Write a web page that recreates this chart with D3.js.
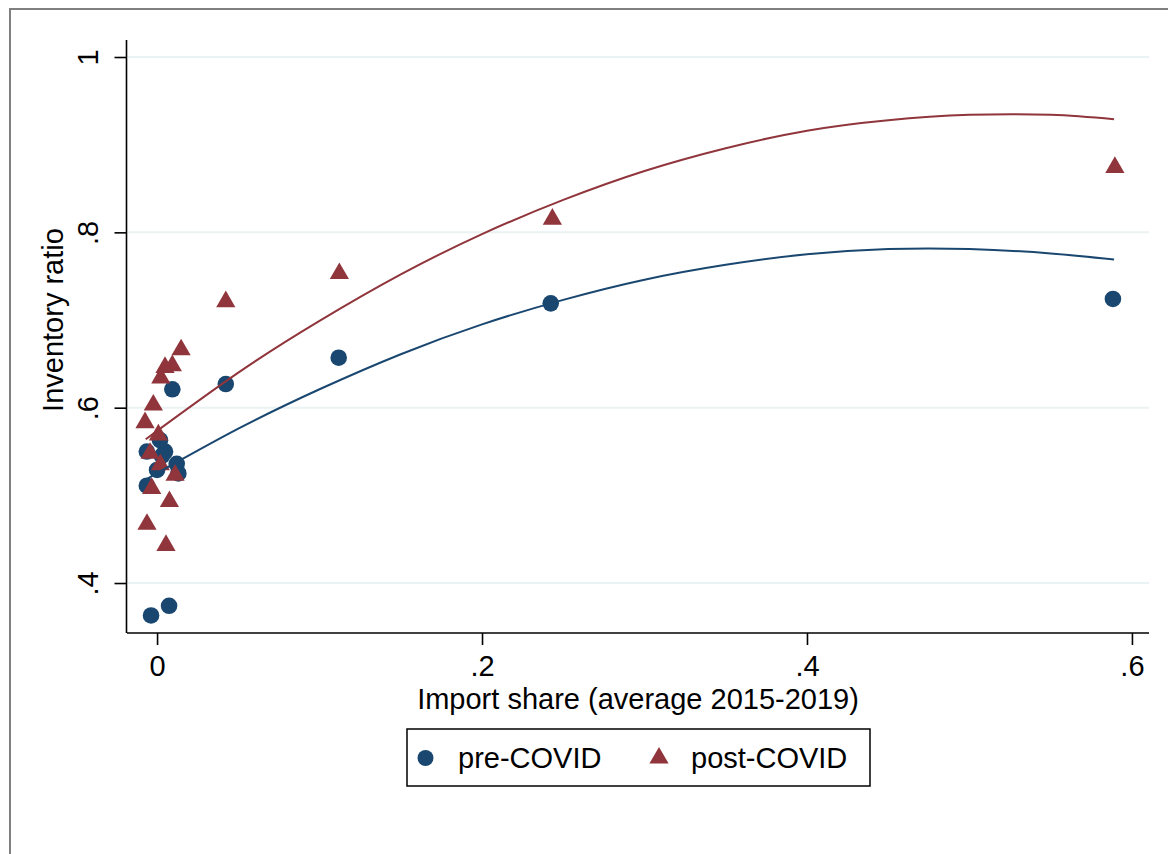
<!doctype html>
<html>
<head>
<title>Inventory ratio and import share</title>
<script src="https://cdnjs.cloudflare.com/ajax/libs/d3/7.8.5/d3.min.js"></script>
<style>
	body { margin: 0; background: #fff; }
	text { font-family: "Liberation Sans", Arial, sans-serif; fill: #000; }
</style>
</head>
<body>
<div id="chartContainer"></div>

<script type="text/javascript">

// scatter values
var preX  = [0.5883, 0.2423, 0.1118, 0.0423, 0.0094, -0.0063, 0.0049, 0.0018, 0.0121, 0.0131, 0.0000, -0.0063, 0.0030, -0.0037, 0.0074];
var preY  = [0.724, 0.719, 0.657, 0.627, 0.621, 0.550, 0.550, 0.563, 0.536, 0.525, 0.529, 0.511, 0.545, 0.363, 0.374];

var postX = [0.5895, 0.2433, 0.1122, 0.0423, 0.0148, 0.0094, 0.0049, 0.0023, -0.0023, -0.0074, 0.0008, -0.0043, 0.0020, 0.0111, -0.0033, 0.0076, -0.0062, 0.0055];
var postY = [0.874, 0.815, 0.753, 0.721, 0.666, 0.648, 0.646, 0.634, 0.603, 0.583, 0.569, 0.548, 0.535, 0.523, 0.508, 0.493, 0.467, 0.443];

// quadratic fit lines
var fitX    = [-0.007, 0.05, 0.10, 0.15, 0.20, 0.25, 0.30, 0.35, 0.40, 0.45, 0.50, 0.55, 0.589];
var fitPre  = [0.518, 0.576, 0.621, 0.661, 0.695, 0.723, 0.746, 0.763, 0.775, 0.781, 0.781, 0.776, 0.769];
var fitPost = [0.564, 0.640, 0.699, 0.752, 0.798, 0.837, 0.870, 0.896, 0.916, 0.928, 0.934, 0.934, 0.929];

var xTicks = [0, 0.2, 0.4, 0.6];
var yTicks = [0.4, 0.6, 0.8, 1];
var seriesNames = ["pre-COVID", "post-COVID"];

var navy = "#1a476f", maroon = "#90353b";

var svg = d3.select("#chartContainer").append("svg")
	.attr("width", 1168)
	.attr("height", 854);

svg.append("rect")
	.attr("width", 1168).attr("height", 854)
	.attr("fill", "#fff");

// outer graph frame, runs off the right and bottom of the page
svg.append("rect")
	.attr("x", 10).attr("y", 9)
	.attr("width", 1200).attr("height", 900)
	.attr("fill", "none")
	.attr("stroke", "#808080")
	.attr("stroke-width", 2);

var x = d3.scaleLinear().domain([-0.0185, 0.6105]).range([127, 1149]);
var y = d3.scaleLinear().domain([0.343, 1.0194]).range([633, 40]);

function fmt(d) {
	if (d === 0) return "0";
	if (d === 1) return "1";
	return d3.format(".1f")(d).replace(/^0/, "");
}

// grid
svg.append("g").selectAll("line")
	.data(yTicks).join("line")
	.attr("x1", 128).attr("x2", 1149)
	.attr("y1", function(d){ return y(d); })
	.attr("y2", function(d){ return y(d); })
	.attr("stroke", "#eaf2f3")
	.attr("stroke-width", 2);

// axes
var xAxis = svg.append("g")
	.attr("transform", "translate(0,633)")
	.call(d3.axisBottom(x).tickValues(xTicks).tickFormat(fmt).tickSize(12).tickPadding(10));
var yAxis = svg.append("g")
	.attr("transform", "translate(126.5,0)")
	.call(d3.axisLeft(y).tickValues(yTicks).tickFormat(fmt).tickSize(12).tickSizeOuter(0));

[xAxis, yAxis].forEach(function(a) {
	a.select(".domain").attr("stroke", "#000").attr("stroke-width", 1.6);
	a.selectAll(".tick line").attr("stroke", "#000").attr("stroke-width", 1.6);
	a.selectAll(".tick text")
		.style("font-family", "'Liberation Sans', Arial, sans-serif")
		.style("font-size", "29px")
		.attr("fill", "#000");
});
xAxis.select(".domain").attr("d", "M127,0H1149");
yAxis.select(".domain").attr("d", "M0,40V633");
yAxis.selectAll(".tick text")
	.attr("x", null).attr("dy", null)
	.attr("text-anchor", "middle")
	.attr("transform", "translate(-29,0) rotate(-90)");
xAxis.selectAll(".tick text").attr("dy", "0.72em");

// axis titles
svg.append("text")
	.attr("x", 638).attr("y", 709)
	.attr("text-anchor", "middle")
	.style("font-size", "29px")
	.text("Import share (average 2015-2019)");

svg.append("text")
	.attr("transform", "translate(63,320) rotate(-90)")
	.attr("text-anchor", "middle")
	.style("font-size", "29px")
	.text("Inventory ratio");

// markers
var tri = d3.symbol().type(d3.symbolTriangle).size(160);

svg.append("g").selectAll("circle")
	.data(d3.range(preX.length)).join("circle")
	.attr("cx", function(i){ return x(preX[i]); })
	.attr("cy", function(i){ return y(preY[i]); })
	.attr("r", 8.3)
	.attr("fill", navy);

svg.append("g").selectAll("path")
	.data(d3.range(postX.length)).join("path")
	.attr("d", tri)
	.attr("transform", function(i){ return "translate(" + x(postX[i]) + "," + y(postY[i]) + ")"; })
	.attr("fill", maroon);

// fitted lines
var line = d3.line()
	.x(function(d){ return x(d[0]); })
	.y(function(d){ return y(d[1]); })
	.curve(d3.curveNatural);

svg.append("path")
	.attr("d", line(d3.zip(fitX, fitPre)))
	.attr("fill", "none").attr("stroke", navy).attr("stroke-width", 2);
svg.append("path")
	.attr("d", line(d3.zip(fitX, fitPost)))
	.attr("fill", "none").attr("stroke", maroon).attr("stroke-width", 2);

// legend
var legend = svg.append("g");
legend.append("rect")
	.attr("x", 407).attr("y", 729)
	.attr("width", 463).attr("height", 57)
	.attr("fill", "#fff")
	.attr("stroke", "#000")
	.attr("stroke-width", 1.5);
legend.append("circle")
	.attr("cx", 425.5).attr("cy", 758).attr("r", 8)
	.attr("fill", navy);
legend.append("path")
	.attr("d", tri)
	.attr("transform", "translate(659,758)")
	.attr("fill", maroon);
legend.append("text")
	.attr("x", 458).attr("y", 768)
	.style("font-size", "29px")
	.text(seriesNames[0]);
legend.append("text")
	.attr("x", 691).attr("y", 768)
	.style("font-size", "29px")
	.text(seriesNames[1]);

</script>
</body>
</html>
